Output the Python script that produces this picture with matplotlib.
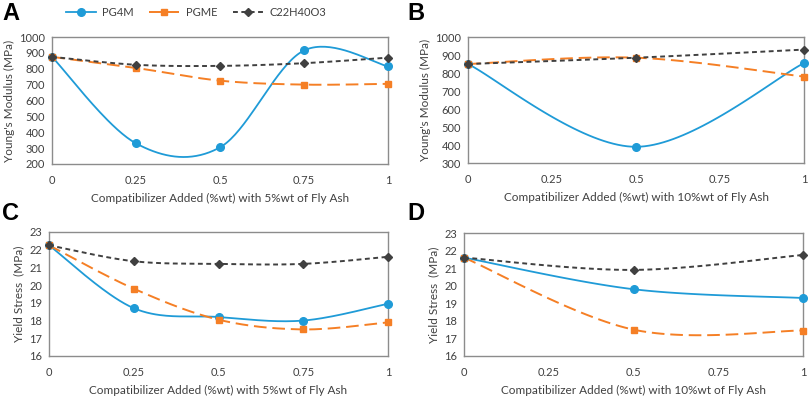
import numpy as np
import matplotlib.pyplot as plt
from matplotlib.lines import Line2D

plt.rcParams["font.family"] = ["Lato", "DejaVu Sans"]

BLUE = "#1f9bd7"
ORANGE = "#f57f25"
DARK = "#404040"
FRAME = "#8c8c8c"
TEXT = "#404040"

# Young's modulus, 5 wt% fly ash
x_a = [0, 0.25, 0.5, 0.75, 1]
pg4m_a = [875, 330, 305, 915, 815]
pgme_a = [875, 805, 725, 700, 705]
c22_a = [875, 825, 818, 835, 870]

# Young's modulus, 10 wt% fly ash
x_b = [0, 0.5, 1]
pg4m_b = [850, 390, 855]
pgme_b = [850, 885, 780]
c22_b = [850, 885, 930]

# Yield stress, 5 wt% fly ash
x_c = [0, 0.25, 0.5, 0.75, 1]
pg4m_c = [22.25, 18.7, 18.2, 18.0, 18.95]
pgme_c = [22.25, 19.8, 18.05, 17.5, 17.9]
c22_c = [22.25, 21.35, 21.2, 21.2, 21.6]

# Yield stress, 10 wt% fly ash
x_d = [0, 0.5, 1]
pg4m_d = [21.6, 19.8, 19.3]
pgme_d = [21.6, 17.5, 17.45]
c22_d = [21.6, 20.9, 21.75]

xticks = [0, 0.25, 0.5, 0.75, 1]
xtick_labels = ["0", "0.25", "0.5", "0.75", "1"]


def smooth(x, y, n=40):
    # Excel-style smoothed line: cubic Bezier segments, Catmull-Rom control points
    x = np.asarray(x, float)
    y = np.asarray(y, float)
    px = np.concatenate([[x[0]], x, [x[-1]]])
    py = np.concatenate([[y[0]], y, [y[-1]]])
    t = np.linspace(0, 1, n)[:, None]
    xs, ys = [], []
    for i in range(len(x) - 1):
        p0 = np.array([x[i], y[i]])
        p3 = np.array([x[i + 1], y[i + 1]])
        p1 = p0 + (np.array([px[i + 2], py[i + 2]]) - np.array([px[i], py[i]])) / 6
        p2 = p3 - (np.array([px[i + 3], py[i + 3]]) - np.array([px[i + 1], py[i + 1]])) / 6
        seg = ((1 - t) ** 3) * p0 + 3 * ((1 - t) ** 2) * t * p1 + 3 * (1 - t) * t ** 2 * p2 + t ** 3 * p3
        xs.append(seg[:, 0])
        ys.append(seg[:, 1])
    return np.concatenate(xs), np.concatenate(ys)


STYLES = [
    dict(color=BLUE, ls="-", marker="o", ms=5.5, lw=1.3),
    dict(color=ORANGE, ls=(0, (6.5, 3)), marker="s", ms=5, lw=1.4),
    dict(color=DARK, ls=(0, (2.5, 1.8)), marker="D", ms=4, lw=1.4),
]

W, H = 809, 398
fig = plt.figure(figsize=(W / 100, H / 100), dpi=100)


def px_axes(l, t, r, b):
    return fig.add_axes([l / W, 1 - b / H, (r - l) / W, (b - t) / H])


def panel(ax, x, series, ylim, yticks, ylabel, xlabel):
    for ys, st in zip(series, STYLES):
        sx, sy = smooth(x, ys)
        ax.plot(sx, sy, color=st["color"], ls=st["ls"], lw=st["lw"], zorder=2)
        ax.plot(x, ys, ls="none", marker=st["marker"], ms=st["ms"],
                color=st["color"], zorder=3, clip_on=False)
    ax.set_xlim(0, 1)
    ax.set_ylim(*ylim)
    ax.set_xticks(xticks)
    ax.set_xticklabels(xtick_labels)
    ax.set_yticks(yticks)
    ax.tick_params(length=0, labelsize=8, colors=TEXT, pad=5)
    ax.tick_params(axis="x", pad=8)
    for s in ax.spines.values():
        s.set_color(FRAME)
        s.set_linewidth(1.0)
    ax.set_ylabel(ylabel, fontsize=8.5, color=TEXT, labelpad=3)
    ax.set_xlabel(xlabel, fontsize=8.5, color=TEXT, labelpad=5)


ax_a = px_axes(52, 37, 388, 164)
panel(ax_a, x_a, [pg4m_a, pgme_a, c22_a], (200, 1000), range(200, 1001, 100),
      "Young's Modulus (MPa)", "Compatibilizer Added (%wt) with 5%wt of Fly Ash")

ax_b = px_axes(468, 37, 804, 163)
panel(ax_b, x_b, [pg4m_b, pgme_b, c22_b], (300, 1000), range(300, 1001, 100),
      "Young's Modulus (MPa)", "Compatibilizer Added (%wt) with 10%wt of Fly Ash")

ax_c = px_axes(49, 232, 388, 356)
panel(ax_c, x_c, [pg4m_c, pgme_c, c22_c], (16, 23), range(16, 24),
      "Yield Stress  (MPa)", "Compatibilizer Added (%wt) with 5%wt of Fly Ash")

ax_d = px_axes(464, 233, 803, 356)
panel(ax_d, x_d, [pg4m_d, pgme_d, c22_d], (16, 23), range(16, 24),
      "Yield Stress  (MPa)", "Compatibilizer Added (%wt) with 10%wt of Fly Ash")

for letter, (lx, ly) in zip("ABCD", [(2, 2), (407, 2), (2, 202), (407, 202)]):
    fig.text(lx / W, 1 - ly / H, letter, fontsize=17, fontweight="bold",
             color="black", ha="left", va="top", family=["Liberation Sans", "DejaVu Sans"])

names = ["PG4M", "PGME", "C22H40O3"]
handles = [Line2D([], [], color=st["color"], ls=st["ls"], lw=st["lw"], marker=st["marker"],
                  ms=st["ms"]) for st in STYLES]
fig.legend(handles, names, loc="center", bbox_to_anchor=(196 / W, 1 - 12 / H), ncol=3,
           frameon=False, fontsize=8, handlelength=2.7, columnspacing=1.4,
           handletextpad=0.6, labelcolor=TEXT)

fig.savefig("out.png", dpi=100, facecolor="white")
